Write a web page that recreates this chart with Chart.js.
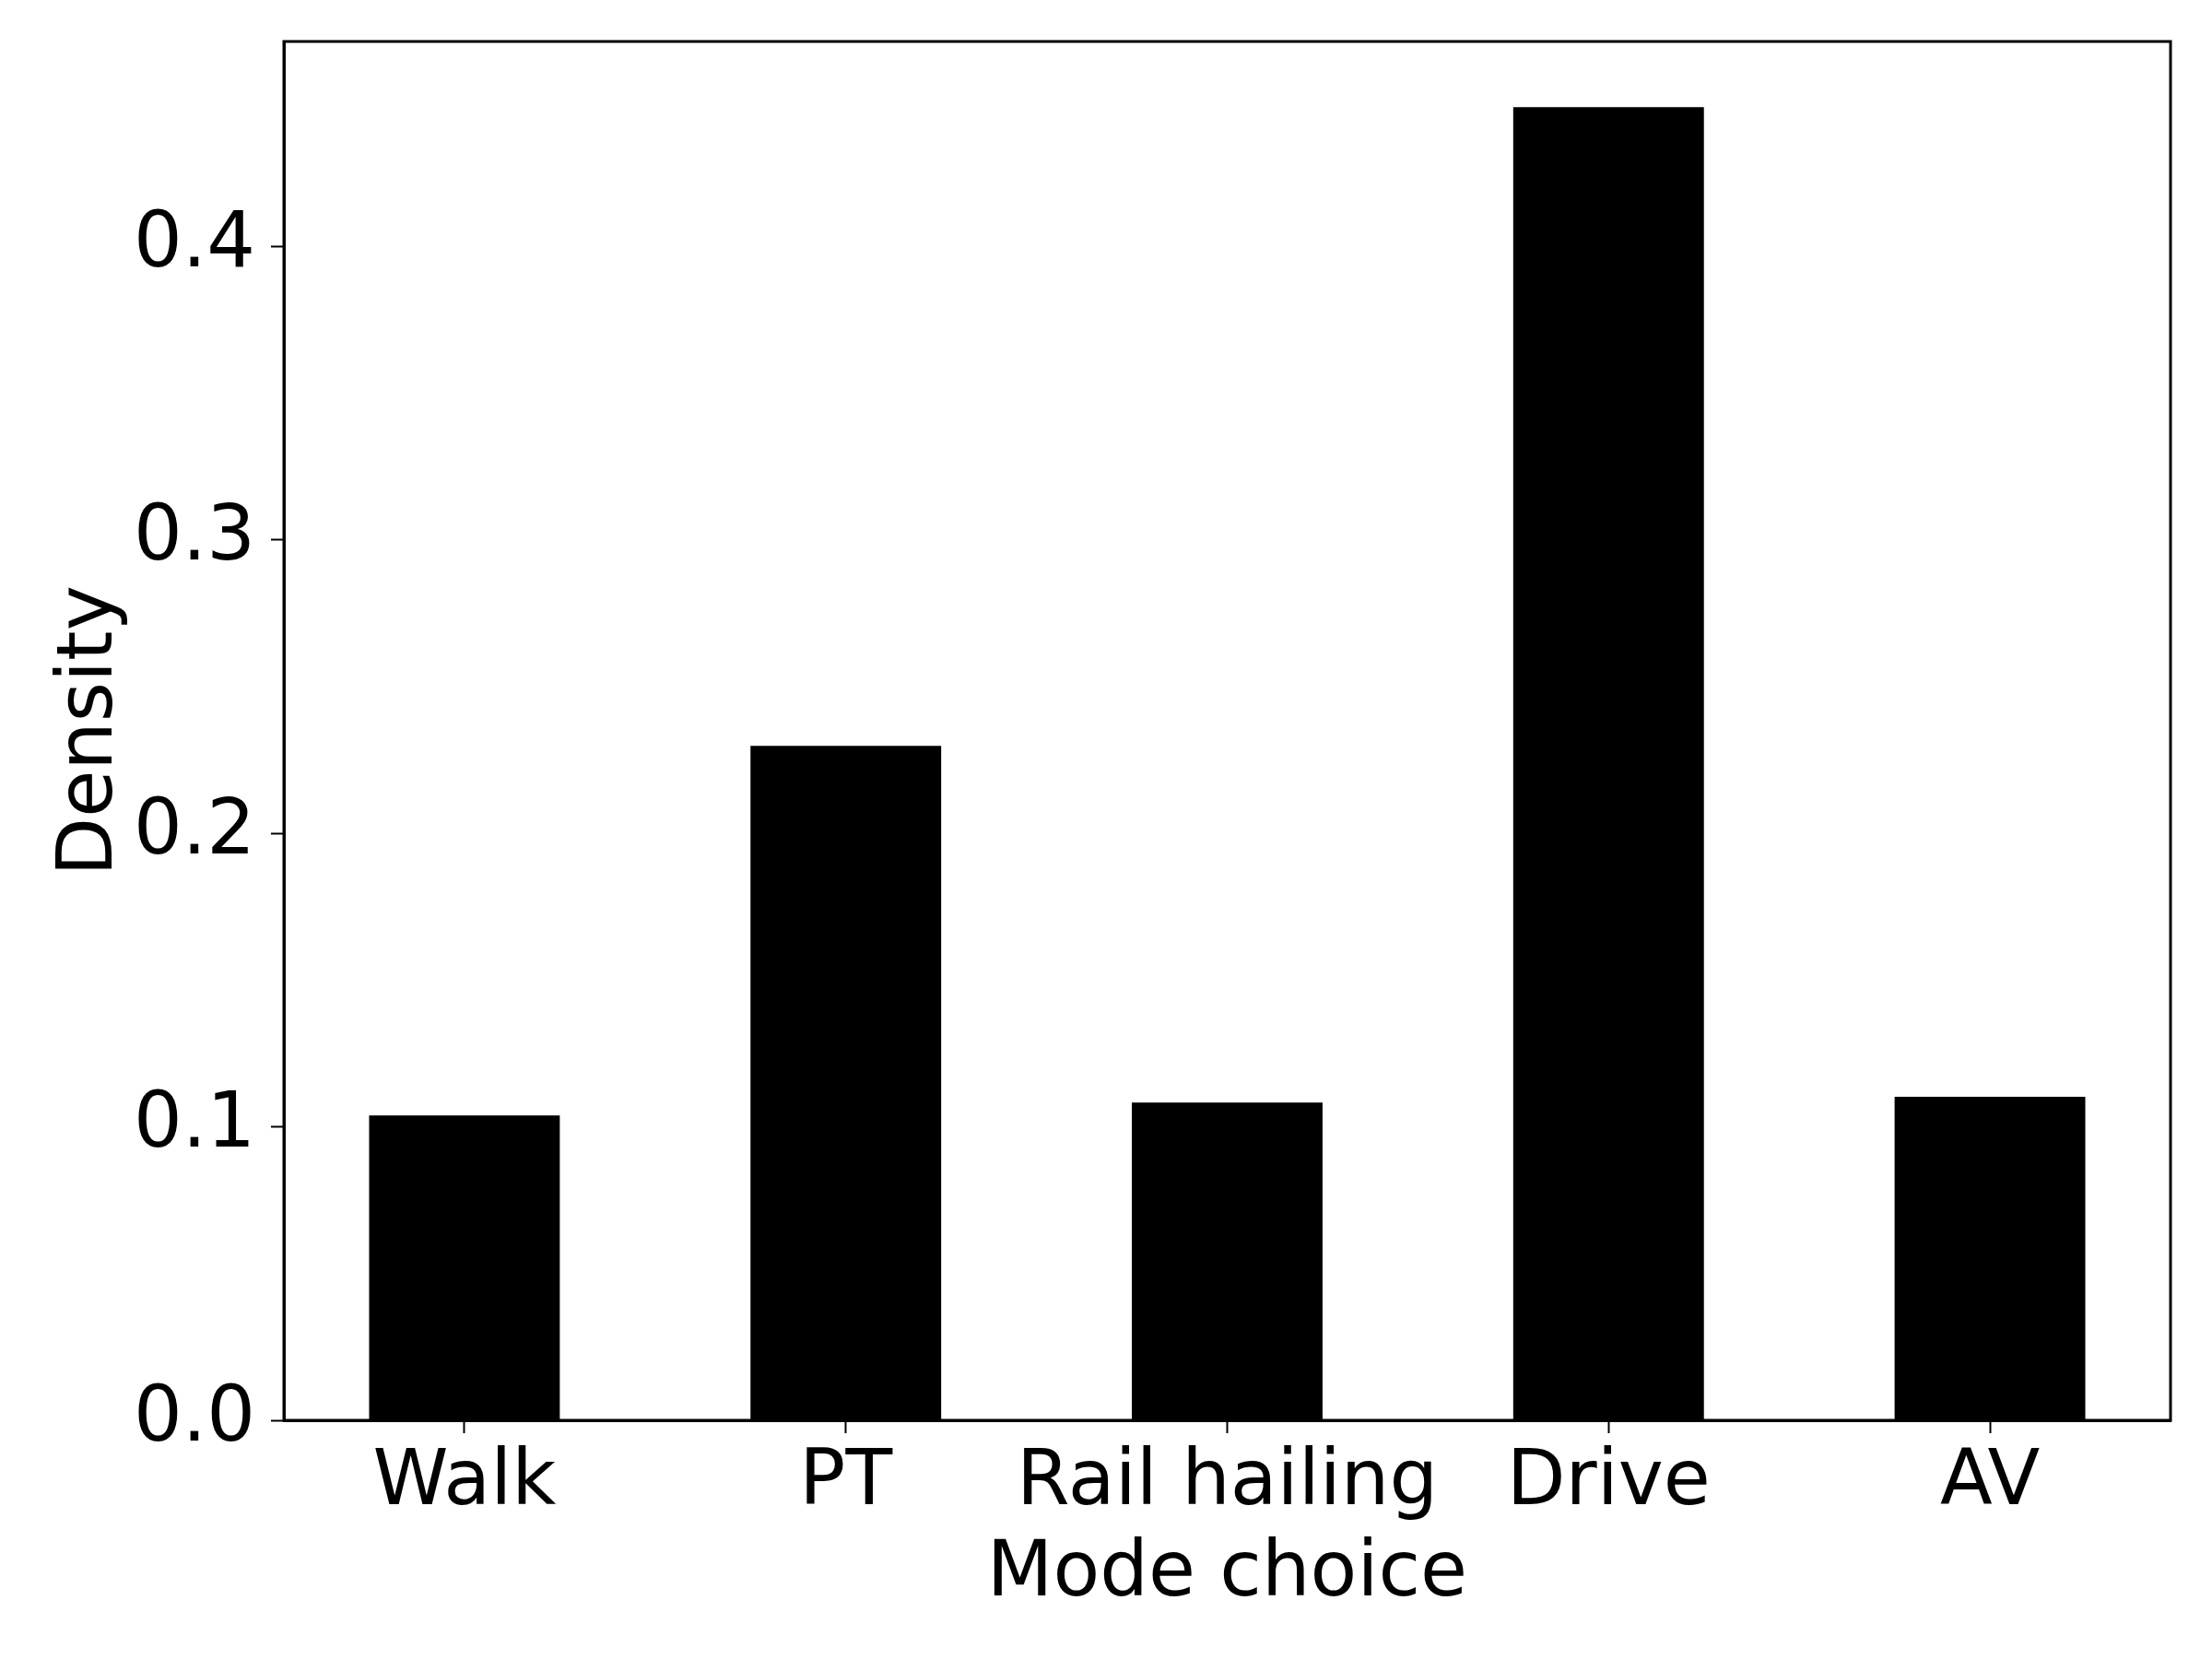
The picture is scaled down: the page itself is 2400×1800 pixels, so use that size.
<!DOCTYPE html>
<html>
<head>
<meta charset="utf-8">
<script src="https://cdn.jsdelivr.net/npm/chart.js@4"></script>
<style>
  html, body { margin: 0; padding: 0; background: #fff; }
  #wrap { width: 2400px; height: 1800px; }
</style>
</head>
<body>
<div id="wrap"><canvas id="chart" width="2400" height="1800"></canvas></div>
<script>
const categories = ["Walk", "PT", "Rail hailing", "Drive", "AV"];
const density = [0.1039, 0.2298, 0.1083, 0.4474, 0.1102];
const yTicks = [0.0, 0.1, 0.2, 0.3, 0.4];

const points = [];
for (let i = 0; i < categories.length; ++i) {
    points.push({ x: i, y: density[i] });
}

const font = "DejaVu Sans";

// matplotlib draws a full box round the axes, Chart.js only left and bottom
const frame = {
    id: "frame",
    afterDraw(chart) {
        const a = chart.chartArea;
        const ctx = chart.ctx;
        ctx.save();
        ctx.strokeStyle = "#000";
        ctx.lineWidth = 3;
        ctx.strokeRect(a.left, a.top, a.right - a.left, a.bottom - a.top);
        ctx.restore();
    }
};

const config = {
    type: "bar",
    data: {
        datasets: [{
            data: points,
            backgroundColor: "#000",
            borderWidth: 0,
            categoryPercentage: 1,
            barPercentage: 0.5
        }]
    },
    options: {
        responsive: false,
        animation: false,
        layout: { padding: { left: 0, top: 45, right: 45, bottom: 0 } },
        plugins: { legend: { display: false }, tooltip: { enabled: false } },
        scales: {
            x: {
                type: "linear",
                offset: false,
                min: -0.4735,
                max: 4.4735,
                afterBuildTicks: (scale) => {
                    scale.ticks = categories.map((c, i) => ({ value: i }));
                },
                afterFit: (scale) => {
                    scale.height = 259;
                    scale.paddingLeft = 0;
                    scale.paddingRight = 0;
                },
                grid: { offset: false, drawOnChartArea: false, drawTicks: true, tickLength: 14, tickWidth: 2, tickColor: "#000" },
                border: { display: true, color: "#000", width: 3 },
                ticks: {
                    color: "#000",
                    padding: 6,
                    maxRotation: 0,
                    autoSkip: false,
                    font: { family: font, size: 83 },
                    callback: (v) => categories[v]
                },
                title: {
                    display: true,
                    text: "Mode choice",
                    color: "#000",
                    font: { family: font, size: 83 },
                    padding: { top: 0, bottom: 41 }
                }
            },
            y: {
                min: 0,
                max: 0.4698,
                afterBuildTicks: (scale) => {
                    scale.ticks = yTicks.map((v) => ({ value: v }));
                },
                afterFit: (scale) => {
                    scale.width = 308;
                    scale.paddingTop = 0;
                    scale.paddingBottom = 0;
                },
                grid: { drawOnChartArea: false, drawTicks: true, tickLength: 14, tickWidth: 2, tickColor: "#000" },
                border: { display: true, color: "#000", width: 3 },
                ticks: {
                    color: "#000",
                    padding: 17,
                    font: { family: font, size: 83 },
                    callback: (v) => v.toFixed(1)
                },
                title: {
                    display: true,
                    text: "Density",
                    color: "#000",
                    font: { family: font, size: 83 },
                    padding: { top: 50, bottom: 0 }
                }
            }
        }
    },
    plugins: [frame]
};

new Chart(document.getElementById("chart"), config);
</script>
</body>
</html>
